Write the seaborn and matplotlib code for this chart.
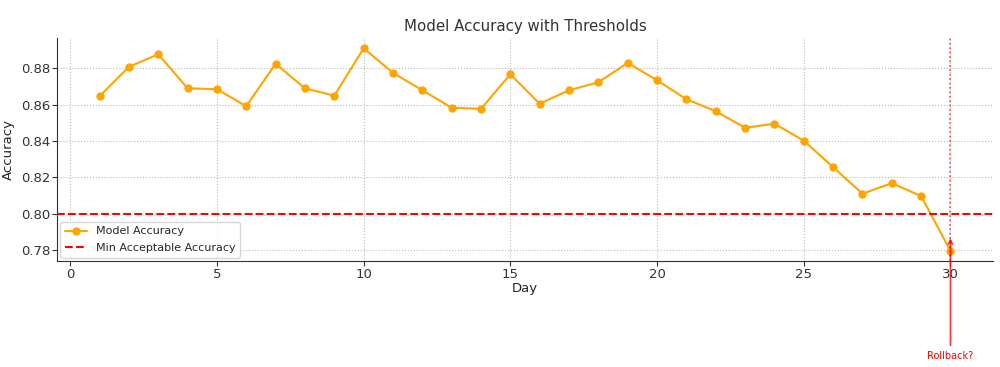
import pandas as pd
import matplotlib
matplotlib.use("Agg")
import matplotlib.pyplot as plt
import seaborn as sns

# Datos
days = list(range(1, 31))
accuracy = [0.8646, 0.8808, 0.8877, 0.8690, 0.8685, 0.8591, 0.8825, 0.8690, 0.8649, 0.8910,
            0.8775, 0.8679, 0.8583, 0.8577, 0.8767, 0.8605, 0.8679, 0.8723, 0.8830, 0.8734,
            0.8630, 0.8564, 0.8473, 0.8495, 0.8402, 0.8256, 0.8110, 0.8168, 0.8097, 0.7796]
min_acc = 0.80
rollback_day = 30

df = pd.DataFrame({"Day": days, "Accuracy": accuracy})

sns.set_style("ticks")
fig, ax = plt.subplots(figsize=(10, 3.67), dpi=100)

sns.lineplot(data=df, x="Day", y="Accuracy", marker="o", color="#FFA500",
             markersize=6, markeredgewidth=0, linewidth=1.5, label="Model Accuracy", ax=ax)
ax.axhline(min_acc, color="red", linestyle="--", linewidth=1.5, label="Min Acceptable Accuracy")
ax.axvline(rollback_day, color="red", linestyle=":", linewidth=1.2, alpha=0.7)

ax.annotate("Rollback?", xy=(rollback_day, 0.788), xytext=(rollback_day, 0.7215),
            arrowprops=dict(arrowstyle="->", color="red", lw=1.2, alpha=0.8),
            color="red", ha="center", va="center", fontsize=7, annotation_clip=False)

ax.grid(True, linestyle=":", color="#bbbbbb", linewidth=0.8)
ax.set_title("Model Accuracy with Thresholds", fontsize=10.8, color="#333333", pad=5)
ax.set_xlabel("Day", fontsize=9.5, labelpad=1)
ax.set_ylabel("Accuracy", fontsize=9.5, labelpad=4)
ax.tick_params(labelsize=9.5, colors="#333333", length=3.5, pad=1.5)
ax.legend(loc="lower left", fontsize=8, borderaxespad=0.3, labelspacing=0.6)
sns.despine(ax=ax)
for s in ["left", "bottom"]:
    ax.spines[s].set_color("#333333")

plt.subplots_adjust(left=0.057, right=0.993, top=0.896, bottom=0.289)
plt.savefig("out.png", dpi=100)
